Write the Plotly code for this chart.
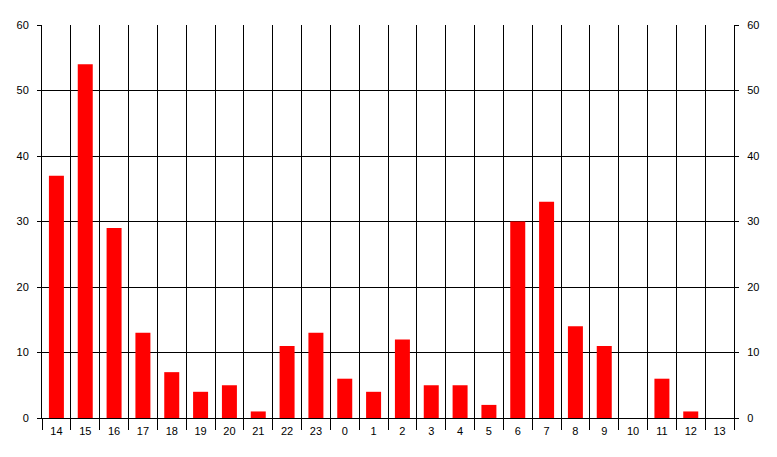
import plotly.graph_objects as go

hours = ["14","15","16","17","18","19","20","21","22","23","0","1","2","3","4","5","6","7","8","9","10","11","12","13"]
counts = [37,54,29,13,7,4,5,1,11,13,6,4,12,5,5,2,30,33,14,11,0,6,1,0]
y_ticks = [0,10,20,30,40,50,60]

fig = go.Figure()
fig.add_trace(go.Bar(x=hours, y=counts, marker=dict(color="#ff0000", line=dict(width=0)),
                     showlegend=False, hoverinfo="x+y"))
fig.add_trace(go.Scatter(x=hours, y=counts, yaxis="y2", mode="none", showlegend=False, hoverinfo="skip"))

font = dict(family="Liberation Sans, Arial, sans-serif", size=11, color="#000000")
fig.update_layout(
    width=769, height=449,
    margin=dict(l=34, r=43, t=17, b=39),
    paper_bgcolor="white", plot_bgcolor="white",
    bargap=0.48,
    font=font,
    xaxis=dict(type="category", tickson="boundaries", showgrid=True, gridcolor="black", gridwidth=1,
               ticks="outside", ticklen=11, tickcolor="black", showline=True, linecolor="black",
               mirror=False, tickfont=font, automargin=False, ticklabelstandoff=3),
    yaxis=dict(range=[0,60], tickvals=y_ticks, showgrid=True, gridcolor="black", gridwidth=1,
               ticks="outside", ticklen=4, tickcolor="black", showline=True, linecolor="black",
               zeroline=False, tickfont=font, automargin=False, ticklabelstandoff=6),
    yaxis2=dict(range=[0,60], tickvals=y_ticks, overlaying="y", side="right", showgrid=False,
                ticks="outside", ticklen=4, tickcolor="black", showline=True, linecolor="black",
                zeroline=False, tickfont=font, automargin=False, ticklabelstandoff=6),
)
fig.write_html("out.html")
